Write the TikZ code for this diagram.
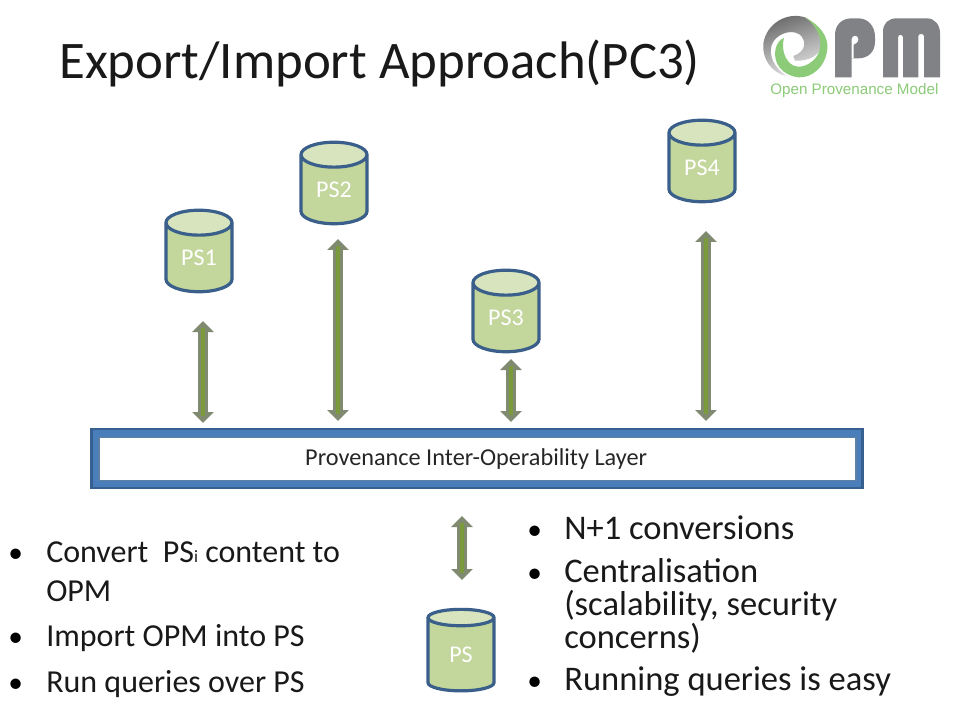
\documentclass[tikz,border=0pt]{standalone}
\usepackage{fontspec}
\setmainfont{Carlito}
\usetikzlibrary{shapes.geometric,arrows.meta}
\definecolor{cylfill}{HTML}{C3D69B}
\definecolor{cyltop}{HTML}{D7E4BD}
\definecolor{cylline}{HTML}{3A5F8B}
\definecolor{arrowline}{HTML}{7F8A70}
\definecolor{arrowfill}{HTML}{7A9A3C}
\definecolor{layerfill}{HTML}{4A7EBB}
\definecolor{layerline}{HTML}{35608F}
\definecolor{logogray}{HTML}{808285}
\definecolor{logogreen}{HTML}{8CCB78}
\tikzset{
 store/.style={cylinder,shape border rotate=90,draw=cylline,line width=3.2*0.75pt,
  cylinder uses custom fill,cylinder body fill=cylfill,cylinder end fill=cyltop,
  aspect=0.7,minimum width=66*0.75pt,minimum height=81.5*0.75pt,inner sep=0pt,
  text=white,font=\fontsize{18}{20}\selectfont},
 outerbar/.style={draw=layerline,line width=2.2pt,fill=layerfill,minimum width=771*0.75pt,minimum height=59*0.75pt,inner sep=0pt},
 innerbar/.style={draw=layerline!80!white,line width=0.8pt,fill=white,minimum width=757*0.75pt,minimum height=43*0.75pt,inner sep=0pt,font=\fontsize{18.2}{20}\selectfont,text=black!85},
 biglink/.style={{Triangle[length=8.25pt,width=15.75pt]}-{Triangle[length=8.25pt,width=15.75pt]},line width=10*0.75pt,draw=arrowline},
 biglinkcore/.style={line width=4*0.75pt,draw=arrowfill,shorten <=5pt,shorten >=5pt},
 titletext/.style={anchor=base west,inner sep=0pt,font=\fontsize{39.6}{44}\selectfont,text=black!90},
 lefttext/.style={anchor=base west,inner sep=0pt,font=\fontsize{24}{29.25}\selectfont,text=black!90},
 righttext/.style={anchor=base west,inner sep=0pt,font=\fontsize{25.9}{24.75}\selectfont,text=black!90},
 dotbullet/.style={anchor=base west,inner sep=0pt,font=\fontsize{22}{24}\selectfont},
}
\begin{document}
\begin{tikzpicture}[x=0.75pt,y=-0.75pt]
\useasboundingbox[fill=white] (0,0) rectangle (960,720);
\node[titletext] (title) at (59,79) {Export/Import Approach(PC3)};
% logo
\begin{scope}[shift={(740,0)},x=0.25pt,y=-0.25pt]
 \path[left color=black!60,right color=black!10,shading angle=20]
  (195,52) .. controls (140,35) and (80,70) .. (70,130) .. controls (65,175) and (95,220) .. (140,228)
  .. controls (105,205) and (85,170) .. (95,135) .. controls (105,105) and (150,85) .. (178,103)
  .. controls (200,120) and (200,155) .. (160,168) -- (165,182)
  .. controls (205,185) and (245,165) .. (246,130) .. controls (246,100) and (225,70) .. (195,52) -- cycle;
 \path[fill=logogreen]
  (195,52) .. controls (240,75) and (265,110) .. (262,145) .. controls (258,200) and (215,235) .. (175,232)
  .. controls (125,225) and (100,190) .. (106,150) .. controls (110,130) and (120,118) .. (132,114)
  .. controls (125,140) and (130,170) .. (150,190) .. controls (175,212) and (215,195) .. (233,165)
  .. controls (255,125) and (230,75) .. (195,52) -- cycle;
 \path[fill=logogray] (285,232) -- (285,105) .. controls (285,75) and (305,55) .. (335,55) -- (355,55)
  .. controls (385,55) and (405,80) .. (405,110) -- (405,125) .. controls (405,155) and (385,175) .. (355,175)
  -- (335,175) -- (335,232) -- cycle;
 \path[fill=white] (335,175) -- (335,118) .. controls (335,104) and (355,104) .. (355,118)
  .. controls (355,130) and (342,132) .. (341,134) -- (341,175) -- cycle;
 \path[fill=logogray] (429,232) -- (429,95) .. controls (429,70) and (445,55) .. (470,55) -- (560,55) .. controls (585,55) and (600,75) .. (600,100) -- (600,232) -- (552,232)
  -- (552,108) .. controls (552,100) and (535,100) .. (535,108) -- (535,232) -- (489,232) -- (489,112)
  .. controls (489,102) and (474,102) .. (474,112) -- (474,232) -- cycle;
\end{scope}
\node[anchor=base west,inner sep=0pt,text=logogreen,font=\fontsize{11.4}{13}\selectfont\fontspec{Liberation Sans}] (logotext) at (770,95) {Open Provenance Model};
% stores
\node[store] (PS1) at (199,258) {PS1};
\node[store] (PS2) at (334,190) {PS2};
\node[store] (PS3) at (506,318) {PS3};
\node[store] (PS4) at (702,168) {PS4};
\node[store] (PS) at (461,655) {PS};
% layer
\node[outerbar] (layerouter) at (477,458.5) {};
\node[innerbar] (layer) at (477.5,459) {\hspace{-2pt}Provenance Inter-Operability Layer};
% connectors
\coordinate (a1) at (203,321); \coordinate (b1) at (203,423);
\coordinate (a2) at (338,239); \coordinate (b2) at (338,421);
\coordinate (a3) at (511,359); \coordinate (b3) at (511,422);
\coordinate (a4) at (706,231); \coordinate (b4) at (706,421);
\coordinate (a5) at (462,516); \coordinate (b5) at (462,580);
\foreach \n in {1,...,5}{
 \draw[biglink] (a\n) -- (b\n);
 \draw[biglinkcore] (a\n) -- (b\n);
}
% text
\node[dotbullet] (bl1) at (8,562) {•};
\node[dotbullet] (bl2) at (8,646) {•};
\node[dotbullet] (bl3) at (8,692) {•};
\node[lefttext] (t1) at (46,562) {\begin{tabular}[t]{@{}l@{}}Convert\ \ PS{\fontsize{13}{14}\selectfont i} content to\\OPM\end{tabular}};
\node[lefttext] (t2) at (46,646) {Import OPM into PS};
\node[lefttext] (t3) at (46,692) {Run queries over PS};
\node[dotbullet] (br1) at (527,539) {•};
\node[dotbullet] (br2) at (527,582) {•};
\node[dotbullet] (br3) at (527,690) {•};
\node[righttext] (r1) at (564,539) {N+1 conversions};
\node[righttext] (r2) at (564,582) {\begin{tabular}[t]{@{}l@{}}Centralisation\\[-1.5pt](scalability, security\\[-1.5pt]concerns)\end{tabular}};
\node[righttext] (r3) at (564,690) {Running queries is easy};
\end{tikzpicture}
\end{document}
